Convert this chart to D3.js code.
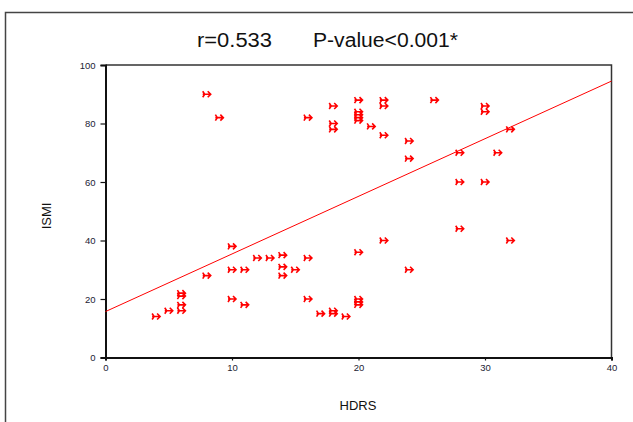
<!DOCTYPE html>
<meta charset="utf-8">
<style>
body { margin: 0; background: #fff; }
text { font-family: "Liberation Sans", Arial, sans-serif; }
</style>
<svg width="633" height="422"></svg>
<script src="https://cdn.jsdelivr.net/npm/d3@7"></script>
<script>

// HDRS (x) and ISMI (y) per patient
var hdrs = [8, 9, 4, 5, 6, 6, 6, 6, 8, 10, 10, 10, 11, 11, 12, 13, 14, 14, 14, 15, 16, 16,
            17, 18, 18, 19, 20, 20, 20, 20, 22, 24, 16, 18, 18, 18, 20, 20, 20, 20, 20, 21,
            22, 22, 22, 24, 24, 26, 30, 30, 32, 28, 31, 28, 30, 28, 32];
var ismi = [90, 82, 14, 16, 22, 21, 18, 16, 28, 38, 30, 20, 30, 18, 34, 34, 35, 31, 28, 30, 34, 20,
            15, 16, 15, 14, 36, 20, 19, 18, 40, 30, 82, 86, 80, 78, 88, 84, 83, 82, 81, 79,
            88, 86, 76, 74, 68, 88, 86, 84, 78, 70, 70, 60, 60, 44, 40];

var xTicks = [0, 10, 20, 30, 40];
var yTicks = [0, 20, 40, 60, 80, 100];

// fitted line
var intercept = 15.7;
var slope = 1.97;

var svg = d3.select("svg");

var x = d3.scaleLinear().domain([0, 40]).range([105.5, 611.5]);
var y = d3.scaleLinear().domain([0, 100]).range([357.5, 65]);

// outer frame
svg.append("path")
  .attr("d", "M5.5,422V12.5H633")
  .attr("fill", "none")
  .attr("stroke", "#444")
  .attr("stroke-width", 1.5);

svg.append("text")
  .attr("x", 197)
  .attr("y", 47)
  .attr("font-size", 20)
  .attr("fill", "#111")
  .attr("textLength", 75)
  .attr("lengthAdjust", "spacingAndGlyphs")
  .text("r=0.533");

svg.append("text")
  .attr("x", 313)
  .attr("y", 47)
  .attr("font-size", 20)
  .attr("fill", "#111")
  .attr("textLength", 145)
  .attr("lengthAdjust", "spacingAndGlyphs")
  .text("P-value<0.001*");

// plot frame top and right
svg.append("path")
  .attr("d", "M" + x(0) + "," + y(100) + "H" + x(40) + "V" + y(0))
  .attr("fill", "none")
  .attr("stroke", "#333")
  .attr("stroke-width", 1.5);

var xAxis = svg.append("g")
  .attr("transform", "translate(0," + y(0) + ")")
  .call(d3.axisBottom(x).tickValues(xTicks).tickSize(3).tickPadding(4));

var yAxis = svg.append("g")
  .attr("transform", "translate(" + x(0) + ",0)")
  .call(d3.axisLeft(y).tickValues(yTicks).tickSize(5).tickPadding(5));

[xAxis, yAxis].forEach(function(a) {
  a.select(".domain").attr("stroke", "#111").attr("stroke-width", 2);
  a.selectAll(".tick line").attr("stroke", "#111").attr("stroke-width", 1.2);
  a.selectAll("text")
    .attr("font-family", "Liberation Sans, Arial, sans-serif")
    .attr("font-size", 9.5)
    .attr("fill", "#223");
});

svg.append("text")
  .attr("x", 358)
  .attr("y", 410)
  .attr("text-anchor", "middle")
  .attr("font-size", 13)
  .attr("fill", "#111")
  .text("HDRS");

svg.append("text")
  .attr("transform", "translate(51,216) rotate(-90)")
  .attr("text-anchor", "middle")
  .attr("font-size", 13)
  .attr("fill", "#111")
  .text("ISMI");

// regression line
svg.append("line")
  .attr("x1", x(0))
  .attr("y1", y(intercept))
  .attr("x2", x(40))
  .attr("y2", y(intercept + slope * 40))
  .attr("stroke", "red")
  .attr("stroke-width", 1);

// arrow-like markers
var marker = "M-4,-3L-2,0L-4,3M-4,0H4M1,-3L4,0L1,3";

svg.append("g")
  .selectAll("path")
  .data(d3.range(hdrs.length))
  .enter().append("path")
  .attr("transform", function(i) { return "translate(" + x(hdrs[i]) + "," + y(ismi[i]) + ")"; })
  .attr("d", marker)
  .attr("fill", "none")
  .attr("stroke", "red")
  .attr("stroke-width", 1.6);
</script>
